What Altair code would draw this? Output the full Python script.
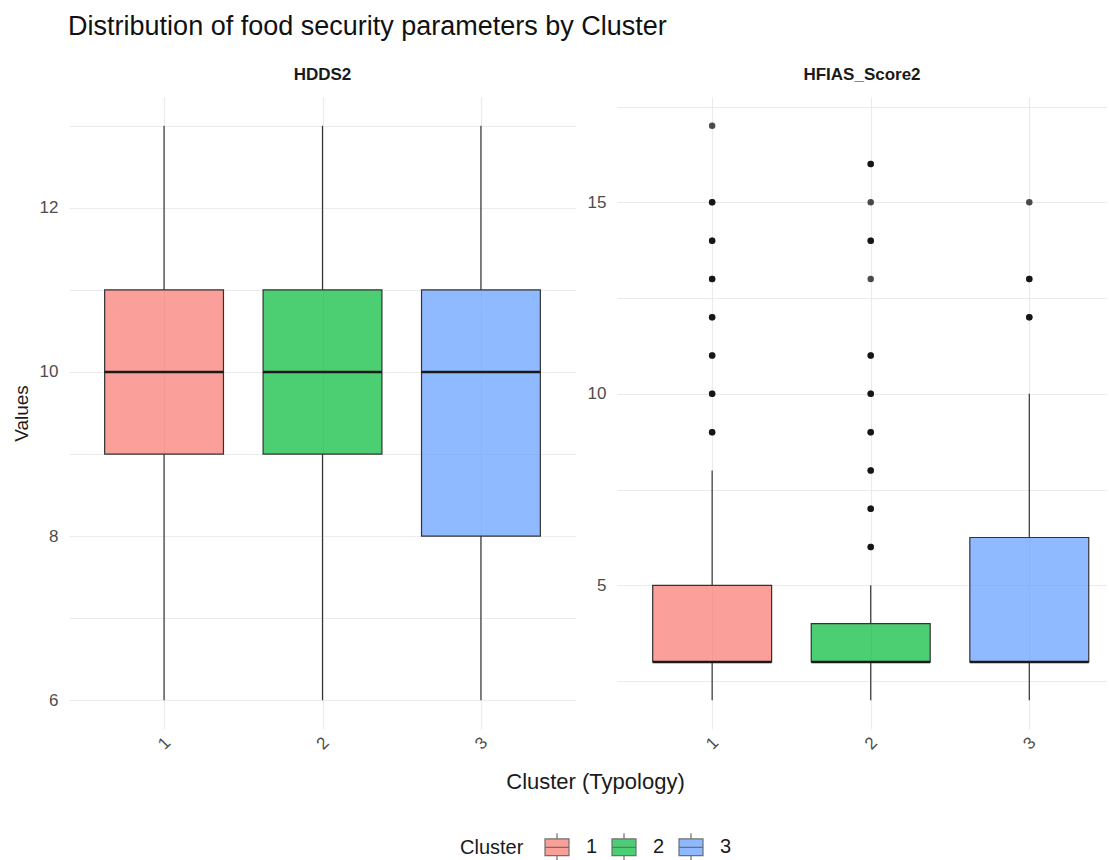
import altair as alt
import pandas as pd

# Box-plot summaries per cluster
clusters = ["1", "2", "3"]

hdds_lower = [6, 6, 6]
hdds_q1 = [9, 9, 8]
hdds_median = [10, 10, 10]
hdds_q3 = [11, 11, 11]
hdds_upper = [13, 13, 13]

hfias_lower = [2, 2, 2]
hfias_q1 = [3, 3, 3]
hfias_median = [3, 3, 3]
hfias_q3 = [5, 4, 6.25]
hfias_upper = [8, 5, 10]

# Outlying HFIAS scores (repeated values are households sharing a score)
hfias_out_1 = [9, 9, 10, 10, 11, 11, 12, 12, 13, 13, 14, 14, 15, 15, 17]
hfias_out_2 = [6, 6, 7, 7, 8, 8, 9, 9, 10, 10, 11, 11, 13, 14, 14, 15, 16, 16]
hfias_out_3 = [12, 12, 13, 13, 15]

palette = ["#F8766D", "#00BA38", "#619CFF"]
FONT = "Liberation Sans"
HALF = 0.375  # half box width in cluster units


def box_frame(lower, q1, med, q3, upper):
    return pd.DataFrame({
        "Cluster": clusters,
        "pos": [1, 2, 3],
        "lower": lower, "q1": q1, "median": med, "q3": q3, "upper": upper,
    })


def outlier_frame(groups):
    rows = []
    for i, vals in enumerate(groups):
        for v in vals:
            rows.append({"Cluster": clusters[i], "pos": i + 1, "value": v})
    return pd.DataFrame(rows, columns=["Cluster", "pos", "value"])


color = alt.Color(
    "Cluster:N",
    scale=alt.Scale(domain=clusters, range=palette),
    legend=alt.Legend(
        title="Cluster",
        orient="none",
        direction="horizontal",
        titleOrient="left",
        legendX=391,
        legendY=735,
        symbolType="M-0.857,-0.6H0.857V0.6H-0.857Z M-0.857,0H0.857 M0,-0.6V-1 M0,0.6V1",
        symbolSize=784,
        symbolStrokeColor="#333333",
        symbolStrokeWidth=1.2,
        symbolOpacity=0.7,
        labelFontSize=20,
        titleFontSize=20,
        labelFont=FONT,
        titleFont=FONT,
        labelColor="#1a1a1a",
        titleColor="#1a1a1a",
        titleFontWeight="normal",
        columnPadding=11,
        labelOffset=14,
        titlePadding=18,
    ),
)


def panel(boxes, outliers, ydomain, yvalues, major_step, title, width,
          xmax, y_title=None, x_title=None):
    xscale = alt.Scale(domain=[0.4, xmax], nice=False, zero=False)
    yscale = alt.Scale(domain=ydomain, nice=False, zero=False)

    x_axis_kw = dict(
        values=[1, 2, 3], format="d", labelAngle=-45, labelAlign="center",
        labelBaseline="middle", labelPadding=14, labelFontSize=17,
        labelColor="#4D4D4D", labelFont=FONT, ticks=False, domain=False,
        grid=True, gridColor="#EBEBEB", gridWidth=1.2,
    )
    if x_title:
        x_axis_kw.update(title=x_title, titleX=526, titleY=52,
                         titleAlign="center", titleBaseline="middle",
                         titleFontSize=22, titleFont=FONT,
                         titleFontWeight="normal", titleColor="#1a1a1a")
    else:
        x_axis_kw.update(title=None)

    y_axis_kw = dict(
        values=yvalues, format="d",
        labelExpr=f"datum.value % {major_step} == 0 ? datum.label : ''",
        labelFontSize=17, labelColor="#4D4D4D", labelFont=FONT,
        labelPadding=11, ticks=False, domain=False,
        grid=True, gridColor="#EBEBEB", gridWidth=1.2,
    )
    if y_title:
        y_axis_kw.update(title=y_title, titleFontSize=19, titleFont=FONT,
                         titleFontWeight="normal", titleColor="#1a1a1a",
                         titlePadding=8)
    else:
        y_axis_kw.update(title=None)

    base = alt.Chart(boxes).transform_calculate(
        x_lo=f"datum.pos - {HALF}", x_hi=f"datum.pos + {HALF}"
    )

    x_pos = alt.X("pos:Q", scale=xscale, axis=alt.Axis(**x_axis_kw))

    whisker_lo = base.mark_rule(color="#333333", strokeWidth=1.2).encode(
        x=x_pos,
        y=alt.Y("lower:Q", scale=yscale, axis=alt.Axis(**y_axis_kw)),
        y2="q1:Q",
    )
    whisker_hi = base.mark_rule(color="#333333", strokeWidth=1.2).encode(
        x="pos:Q", y="q3:Q", y2="upper:Q"
    )
    box = base.mark_rect(
        fillOpacity=0.7, stroke="#333333", strokeWidth=1.2
    ).encode(
        x="x_lo:Q", x2="x_hi:Q", y="q1:Q", y2="q3:Q", color=color
    )
    median = base.mark_rule(color="#1a1a1a", strokeWidth=2.6).encode(
        x="x_lo:Q", x2="x_hi:Q", y="median:Q"
    )
    layers = [whisker_lo, whisker_hi, box, median]
    if len(outliers):
        pts = alt.Chart(outliers).mark_circle(
            size=42, color="black", opacity=0.7
        ).encode(x="pos:Q", y="value:Q")
        layers.append(pts)

    return alt.layer(*layers).properties(
        width=width, height=632,
        title=alt.TitleParams(title, anchor="middle", fontSize=17,
                              fontWeight="bold", font=FONT, color="#1a1a1a",
                              offset=13),
    )


left = panel(
    box_frame(hdds_lower, hdds_q1, hdds_median, hdds_q3, hdds_upper),
    outlier_frame([[], [], []]),
    [5.65, 13.35], [6, 7, 8, 9, 10, 11, 12, 13], 2, "HDDS2", 507, 3.6,
    y_title="Values", x_title="Cluster (Typology)",
)
right = panel(
    box_frame(hfias_lower, hfias_q1, hfias_median, hfias_q3, hfias_upper),
    outlier_frame([hfias_out_1, hfias_out_2, hfias_out_3]),
    [1.25, 17.75], [2.5, 5, 7.5, 10, 12.5, 15, 17.5], 5, "HFIAS_Score2",
    490, 3.49,
)

chart = alt.hconcat(left, right, spacing=41, bounds="flush").properties(
    title=alt.TitleParams(
        "Distribution of food security parameters by Cluster",
        anchor="start", fontSize=27, font=FONT, fontWeight="normal",
        color="#111111", dx=56, offset=25,
    ),
    padding={"left": 12, "top": 13, "right": 0, "bottom": 0},
    background="white",
).configure_view(strokeWidth=0, stroke="transparent")

chart.save("out.html", embed_options={"renderer": "svg", "actions": False})
